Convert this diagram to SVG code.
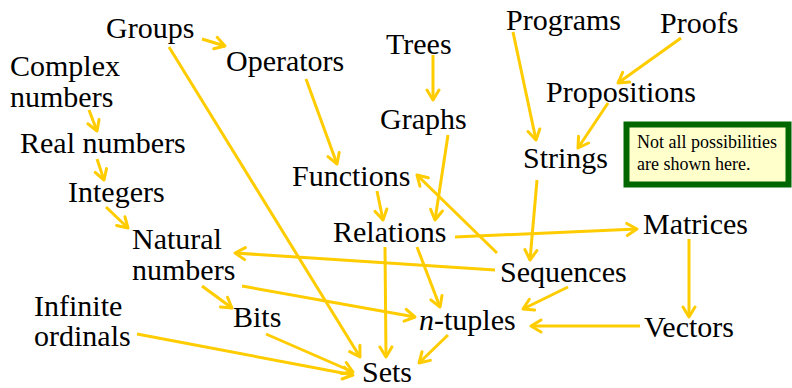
<svg xmlns="http://www.w3.org/2000/svg" width="792" height="388" viewBox="0 0 792 388">
<defs>
<marker id="ah" markerUnits="userSpaceOnUse" markerWidth="16" markerHeight="16" viewBox="0 0 16 16" refX="13" refY="8" orient="auto">
<path d="M3,2 L13,8 L3,14" fill="none" stroke="#ffcc00" stroke-width="3" stroke-linecap="round" stroke-linejoin="round"/>
</marker>
</defs>
<g id="connectors" stroke="#ffcc00" stroke-width="3" marker-end="url(#ah)">
<line x1="202" y1="39" x2="225" y2="46"/>
<line x1="169" y1="47" x2="360" y2="357"/>
<line x1="89" y1="110" x2="97" y2="131"/>
<line x1="97" y1="159" x2="104" y2="180"/>
<line x1="106" y1="207" x2="128" y2="228"/>
<line x1="306" y1="79" x2="337" y2="164"/>
<line x1="433" y1="55" x2="433" y2="100"/>
<line x1="448" y1="135" x2="435" y2="220"/>
<line x1="497" y1="253" x2="417" y2="175"/>
<line x1="377" y1="191" x2="383" y2="220"/>
<line x1="455" y1="237" x2="637" y2="229"/>
<line x1="385" y1="247" x2="386" y2="357"/>
<line x1="417" y1="247" x2="440" y2="307"/>
<line x1="495" y1="270" x2="235" y2="253"/>
<line x1="242" y1="286" x2="415" y2="317"/>
<line x1="202" y1="286" x2="232" y2="308"/>
<line x1="137" y1="334" x2="353" y2="375"/>
<line x1="266" y1="334" x2="353" y2="372"/>
<line x1="448" y1="335" x2="419" y2="363"/>
<line x1="568" y1="287" x2="523" y2="309"/>
<line x1="640" y1="326" x2="531" y2="326"/>
<line x1="689" y1="239" x2="689" y2="317"/>
<line x1="537" y1="180" x2="530" y2="260"/>
<line x1="513" y1="32" x2="536" y2="140"/>
<line x1="681" y1="38" x2="618" y2="83"/>
<line x1="608" y1="103" x2="578" y2="148"/>
</g>
<g id="groups"><text x="106" y="38" font-family="Liberation Serif" font-size="30">Groups</text></g>
<g id="operators"><text x="226" y="71" font-family="Liberation Serif" font-size="30">Operators</text></g>
<g id="trees"><text x="386" y="54" font-family="Liberation Serif" font-size="30">Trees</text></g>
<g id="graphs"><text x="380" y="129" font-family="Liberation Serif" font-size="30">Graphs</text></g>
<g id="functions"><text x="292" y="186" font-family="Liberation Serif" font-size="30">Functions</text></g>
<g id="complex"><text x="10" y="76" font-family="Liberation Serif" font-size="30">Complex</text><text x="10" y="107" font-family="Liberation Serif" font-size="30">numbers</text></g>
<g id="real"><text x="20" y="153" font-family="Liberation Serif" font-size="30">Real numbers</text></g>
<g id="integers"><text x="68" y="202" font-family="Liberation Serif" font-size="30">Integers</text></g>
<g id="natural"><text x="132" y="249" font-family="Liberation Serif" font-size="30">Natural</text><text x="132" y="280" font-family="Liberation Serif" font-size="30">numbers</text></g>
<g id="infinite"><text x="34" y="316" font-family="Liberation Serif" font-size="30">Infinite</text><text x="34" y="346" font-family="Liberation Serif" font-size="30">ordinals</text></g>
<g id="bits"><text x="233" y="327" font-family="Liberation Serif" font-size="30">Bits</text></g>
<g id="sets"><text x="362" y="382" font-family="Liberation Serif" font-size="30">Sets</text></g>
<g id="relations"><text x="333" y="242" font-family="Liberation Serif" font-size="30">Relations</text></g>
<g id="ntuples"><text x="419" y="330" font-family="Liberation Serif" font-size="30"><tspan font-style="italic">n</tspan>-tuples</text></g>
<g id="sequences"><text x="500" y="282" font-family="Liberation Serif" font-size="30">Sequences</text></g>
<g id="matrices"><text x="643" y="234" font-family="Liberation Serif" font-size="30">Matrices</text></g>
<g id="vectors"><text x="644" y="337" font-family="Liberation Serif" font-size="30">Vectors</text></g>
<g id="programs"><text x="506" y="30" font-family="Liberation Serif" font-size="30">Programs</text></g>
<g id="proofs"><text x="660" y="33" font-family="Liberation Serif" font-size="30">Proofs</text></g>
<g id="propositions"><text x="546" y="102" font-family="Liberation Serif" font-size="30">Propositions</text></g>
<g id="strings"><text x="523" y="168" font-family="Liberation Serif" font-size="30">Strings</text></g>
<g id="note">
<rect x="626.5" y="124.5" width="162" height="60" fill="#ffffcc" stroke="#006600" stroke-width="6"/>
<text x="637" y="148" font-family="Liberation Serif" font-size="18">Not all possibilities</text>
<text x="637" y="170" font-family="Liberation Serif" font-size="18">are shown here.</text>
</g>
</svg>
